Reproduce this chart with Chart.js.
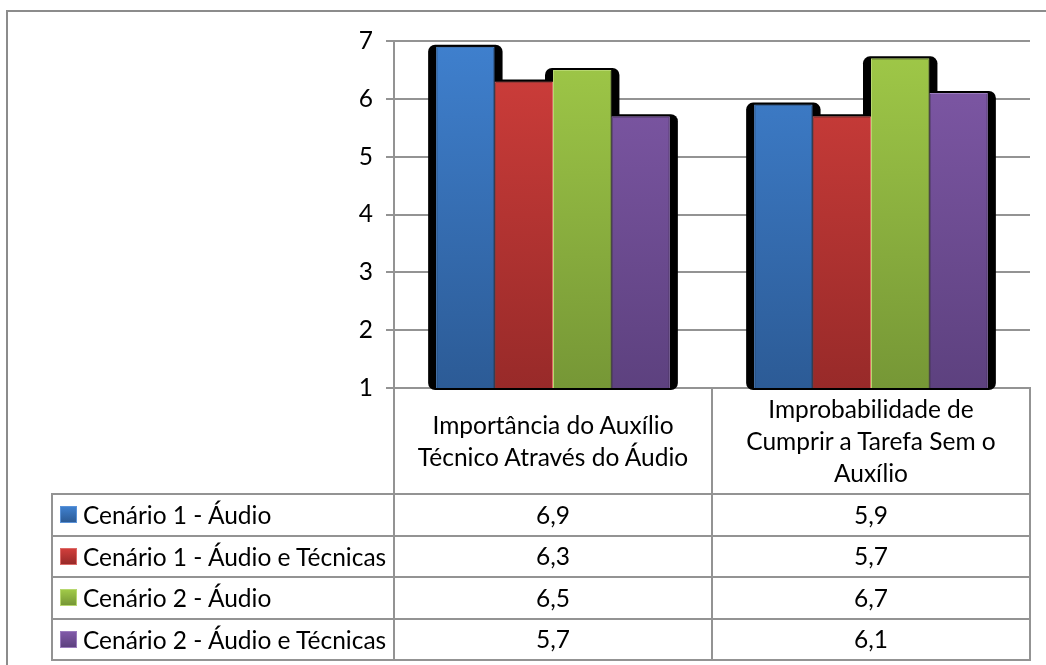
<!DOCTYPE html>
<html>
<head>
<meta charset="utf-8">
<script src="https://cdn.jsdelivr.net/npm/chart.js@4.4.1/dist/chart.umd.min.js"></script>
<style>
	html, body { margin: 0; padding: 0; background: #fff; }
	#wrap { position: relative; width: 1046px; height: 665px; overflow: hidden; font-family: Lato, "Open Sans", sans-serif; color: #000; }
	#frame { position: absolute; left: 6px; top: 10px; width: 1100px; height: 700px; border-left: 2px solid #8c8c8c; border-top: 2px solid #8c8c8c; }
	canvas { position: absolute; left: 0; top: 0; }
	.cell { position: absolute; box-sizing: border-box; display: flex; flex-direction: column; align-items: center; justify-content: center; text-align: center; font-size: 24.5px; line-height: 32px; white-space: nowrap; }
	.leg { position: absolute; box-sizing: border-box; display: flex; align-items: center; font-size: 24.5px; white-space: nowrap; }
	.swatch { width: 17px; height: 17px; margin-right: 6px; box-sizing: border-box; }
	.line { position: absolute; background: #939393; }
</style>
</head>
<body>
<div id="wrap">
	<div id="frame"></div>
	<canvas id="grafico" width="1046" height="665"></canvas>
	<div id="tabela"></div>
</div>
<script>
// dados
var categorias = [
	["Importância do Auxílio", "Técnico Através do Áudio"],
	["Improbabilidade de", "Cumprir a Tarefa Sem o", "Auxílio"]
];
var series = [
	"Cenário 1 - Áudio",
	"Cenário 1 - Áudio e Técnicas",
	"Cenário 2 - Áudio",
	"Cenário 2 - Áudio e Técnicas"
];
var cenario1Audio = [6.9, 5.9];
var cenario1AudioTecnicas = [6.3, 5.7];
var cenario2Audio = [6.5, 6.7];
var cenario2AudioTecnicas = [5.7, 6.1];
var ticksY = [1, 2, 3, 4, 5, 6, 7];

var valores = [cenario1Audio, cenario1AudioTecnicas, cenario2Audio, cenario2AudioTecnicas];
var cores = [
	["#3f80ce", "#2c5b96", "#5a92d8"],
	["#d03e3b", "#982a29", "#dc6a67"],
	["#a0c948", "#769736", "#b7d76f"],
	["#8059a8", "#5d417f", "#9a7bbd"]
];
var cinza = "#939393";

function gradiente(cor) {
	return function(context) {
		var area = context.chart.chartArea;
		if (!area) return cor[0];
		var g = context.chart.ctx.createLinearGradient(0, area.top, 0, area.bottom);
		g.addColorStop(0, cor[0]);
		g.addColorStop(1, cor[1]);
		return g;
	};
}

// sombra preta atras das barras
var sombraPlugin = {
	id: 'sombra',
	beforeDatasetsDraw: function(chart) {
		var ctx = chart.ctx;
		var baixo = chart.chartArea.bottom;
		ctx.save();
		ctx.fillStyle = "#000";
		chart.data.datasets.forEach(function(ds, i) {
			chart.getDatasetMeta(i).data.forEach(function(bar) {
				var p = bar.getProps(['x', 'y', 'width'], true);
				var l = p.x - p.width / 2 - 8;
				var r = p.x + p.width / 2 + 8;
				ctx.beginPath();
				ctx.roundRect(l, p.y - 2, r - l, baixo - p.y + 4, 7);
				ctx.fill();
			});
		});
		ctx.restore();
	}
};

var datasets = [];
for (var i = 0; i < series.length; i++) {
	datasets.push({
		label: series[i],
		data: valores[i],
		backgroundColor: gradiente(cores[i]),
		borderColor: cores[i][2],
		borderWidth: 1,
		categoryPercentage: 0.735,
		barPercentage: 1
	});
}

var grafico = new Chart(document.getElementById("grafico"), {
	type: 'bar',
	data: {
		labels: categorias,
		datasets: datasets
	},
	options: {
		responsive: false,
		animation: false,
		layout: { padding: { left: 0, top: 41, right: 16, bottom: 277 } },
		plugins: {
			legend: { display: false },
			tooltip: { enabled: false }
		},
		scales: {
			x: { display: false },
			y: {
				min: 1,
				max: 7,
				afterBuildTicks: function(s) {
					s.ticks = ticksY.map(function(v) { return { value: v }; });
				},
				afterFit: function(s) { s.width = 394; },
				border: { display: true, color: cinza, width: 2 },
				grid: { color: cinza, lineWidth: 2, drawTicks: true, tickLength: 8, tickColor: cinza },
				ticks: {
					padding: 13,
					color: "#000",
					font: { family: "Lato", size: 24.5 }
				}
			}
		}
	},
	plugins: [sombraPlugin]
});

// tabela de dados
var area = grafico.chartArea;
var tabela = document.getElementById("tabela");
var largCat = (area.right - area.left) / categorias.length;
var altCab = 106;
var altLinha = 41.5;
var esq = 52;
var fundo = area.bottom + altCab + altLinha * series.length;

function linha(x, y, w, h) {
	var d = document.createElement("div");
	d.className = "line";
	d.style.left = (x - 1) + "px";
	d.style.top = (y - 1) + "px";
	d.style.width = w + "px";
	d.style.height = h + "px";
	tabela.appendChild(d);
}

// cabecalho
categorias.forEach(function(cat, j) {
	var c = document.createElement("div");
	c.className = "cell";
	c.style.left = (area.left + j * largCat) + "px";
	c.style.top = area.bottom + "px";
	c.style.width = largCat + "px";
	c.style.height = altCab + "px";
	c.innerHTML = cat.map(function(t) { return "<span>" + t + "</span>"; }).join("");
	tabela.appendChild(c);
});

// linhas de series
series.forEach(function(nome, i) {
	var y = area.bottom + altCab + i * altLinha;
	var lg = document.createElement("div");
	lg.className = "leg";
	lg.style.left = (esq + 8) + "px";
	lg.style.top = y + "px";
	lg.style.height = altLinha + "px";
	lg.innerHTML = "<div class='swatch' style='background:linear-gradient(" + cores[i][0] + "," + cores[i][1] + ");border:1px solid " + cores[i][2] + "'></div><span>" + nome + "</span>";
	tabela.appendChild(lg);
	valores[i].forEach(function(v, j) {
		var c = document.createElement("div");
		c.className = "cell";
		c.style.left = (area.left + j * largCat) + "px";
		c.style.top = y + "px";
		c.style.width = largCat + "px";
		c.style.height = altLinha + "px";
		c.textContent = v.toFixed(1).replace(".", ",");
		tabela.appendChild(c);
	});
	linha(esq, y, area.right - esq + 2, 2);
});
linha(esq, fundo, area.right - esq + 2, 2);

// linhas verticais
linha(esq, area.bottom + altCab, 2, altLinha * series.length + 2);
for (var j = 0; j <= categorias.length; j++) {
	linha(area.left + j * largCat, area.bottom, 2, fundo - area.bottom + 2);
}
</script>
</body>
</html>
